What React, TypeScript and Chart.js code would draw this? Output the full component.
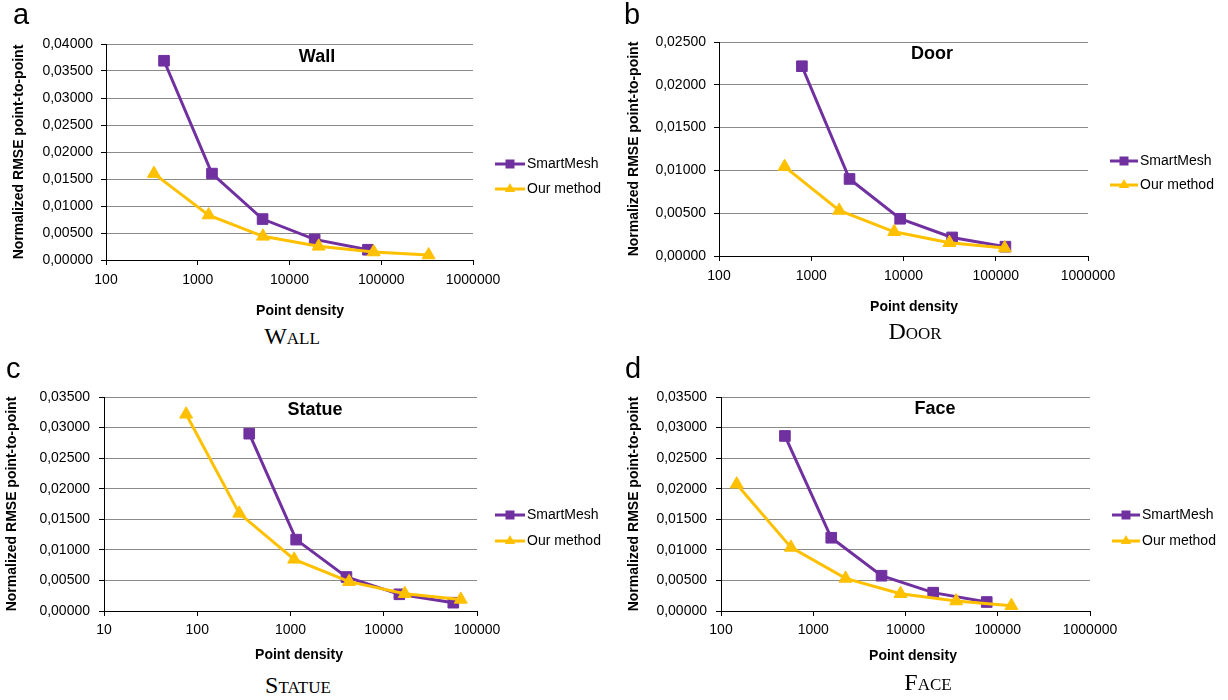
import React, { useEffect, useRef } from 'react';
import { Chart, registerables } from 'chart.js';

Chart.register(...registerables);

const FONT = '"Liberation Sans", Arial, sans-serif';
const SERIF = '"Liberation Serif", "DejaVu Serif", serif';
const SERIES_NAMES = ['SmartMesh', 'Our method'];
const COLORS = ['#7030A0', '#FFC000'];
const X_TITLE = 'Point density';
const Y_TITLE = 'Normalized RMSE point-to-point';

// Panel a: Wall
const WALL_SM_X = [429, 1429, 5090, 18800, 71600];
const WALL_SM_Y = [0.0369, 0.016, 0.00758, 0.00382, 0.0019];
const WALL_OUR_X = [333, 1314, 5140, 20800, 82600, 328000];
const WALL_OUR_Y = [0.016, 0.00832, 0.00438, 0.00253, 0.00148, 0.00092];
const WALL_X_TICKS = [100, 1000, 10000, 100000, 1000000];
const WALL_Y_TICKS = [0, 0.005, 0.01, 0.015, 0.02, 0.025, 0.03, 0.035, 0.04];

// Panel b: Door
const DOOR_SM_X = [792, 2600, 9200, 33650, 127300];
const DOOR_SM_Y = [0.02217, 0.009, 0.00435, 0.00217, 0.00109];
const DOOR_OUR_X = [514, 2010, 7925, 31480, 125000];
const DOOR_OUR_Y = [0.01044, 0.00532, 0.00283, 0.00155, 0.00093];
const DOOR_X_TICKS = [100, 1000, 10000, 100000, 1000000];
const DOOR_Y_TICKS = [0, 0.005, 0.01, 0.015, 0.02, 0.025];

// Panel c: Statue
const STATUE_SM_X = [361, 1150, 3980, 14700, 55700];
const STATUE_SM_Y = [0.029, 0.01167, 0.00556, 0.00273, 0.00136];
const STATUE_OUR_X = [76, 282, 1095, 4250, 16800, 67000];
const STATUE_OUR_Y = [0.03217, 0.01597, 0.00845, 0.0048, 0.00283, 0.0019];
const STATUE_X_TICKS = [10, 100, 1000, 10000, 100000];
const STATUE_Y_TICKS = [0, 0.005, 0.01, 0.015, 0.02, 0.025, 0.03, 0.035];

// Panel d: Face
const FACE_SM_X = [493, 1567, 5500, 19950, 76000];
const FACE_SM_Y = [0.02863, 0.01198, 0.00577, 0.003, 0.00147];
const FACE_OUR_X = [148, 573, 2240, 8830, 35400, 140600];
const FACE_OUR_Y = [0.02074, 0.0104, 0.00533, 0.00283, 0.00163, 0.00087];
const FACE_X_TICKS = [100, 1000, 10000, 100000, 1000000];
const FACE_Y_TICKS = [0, 0.005, 0.01, 0.015, 0.02, 0.025, 0.03, 0.035];

type PanelCfg = {
  letter: string;
  title: string;
  caption: string;
  smX: number[]; smY: number[]; ourX: number[]; ourY: number[];
  xTicks: number[]; yTicks: number[];
  box: { left: number; top: number; w: number; h: number };
  area: { l: number; r: number; t: number; b: number };
  yTickPad: number; yTitlePad: number; xTickPad: number;
  titlePos: [number, number];
  xTitlePos: [number, number];
  legend: { x0: number; x1: number; tx: number; y: [number, number] };
  capPos: [number, number];
  letterPos: [number, number];
};

const PANELS: PanelCfg[] = [
  {
    letter: 'a', title: 'Wall', caption: 'Wall',
    smX: WALL_SM_X, smY: WALL_SM_Y, ourX: WALL_OUR_X, ourY: WALL_OUR_Y,
    xTicks: WALL_X_TICKS, yTicks: WALL_Y_TICKS,
    box: { left: 0, top: 0, w: 614, h: 320 },
    area: { l: 106, r: 473, t: 44, b: 260 },
    yTickPad: 8, yTitlePad: 11, xTickPad: 7,
    titlePos: [317, 57], xTitlePos: [300, 311],
    legend: { x0: 495, x1: 525, tx: 527, y: [164, 189] },
    capPos: [292, 324], letterPos: [13, 0],
  },
  {
    letter: 'b', title: 'Door', caption: 'Door',
    smX: DOOR_SM_X, smY: DOOR_SM_Y, ourX: DOOR_OUR_X, ourY: DOOR_OUR_Y,
    xTicks: DOOR_X_TICKS, yTicks: DOOR_Y_TICKS,
    box: { left: 614, top: 0, w: 614, h: 320 },
    area: { l: 719, r: 1088, t: 42, b: 256 },
    yTickPad: 8, yTitlePad: 12, xTickPad: 7,
    titlePos: [932, 54], xTitlePos: [914, 307],
    legend: { x0: 1110, x1: 1138, tx: 1140, y: [161, 185] },
    capPos: [915, 319], letterPos: [624, 0],
  },
  {
    letter: 'c', title: 'Statue', caption: 'Statue',
    smX: STATUE_SM_X, smY: STATUE_SM_Y, ourX: STATUE_OUR_X, ourY: STATUE_OUR_Y,
    xTicks: STATUE_X_TICKS, yTicks: STATUE_Y_TICKS,
    box: { left: 0, top: 350, w: 614, h: 320 },
    area: { l: 104, r: 477, t: 397, b: 611 },
    yTickPad: 9, yTitlePad: 4, xTickPad: 6,
    titlePos: [315, 410], xTitlePos: [299, 655],
    legend: { x0: 495, x1: 525, tx: 527, y: [515, 541] },
    capPos: [298, 673], letterPos: [6, 354],
  },
  {
    letter: 'd', title: 'Face', caption: 'Face',
    smX: FACE_SM_X, smY: FACE_SM_Y, ourX: FACE_OUR_X, ourY: FACE_OUR_Y,
    xTicks: FACE_X_TICKS, yTicks: FACE_Y_TICKS,
    box: { left: 614, top: 350, w: 614, h: 320 },
    area: { l: 721, r: 1090, t: 397, b: 611 },
    yTickPad: 9, yTitlePad: 12, xTickPad: 6,
    titlePos: [935, 409], xTitlePos: [913, 656],
    legend: { x0: 1112, x1: 1140, tx: 1142, y: [515, 541] },
    capPos: [928, 670], letterPos: [625, 354],
  },
];

function drawMarker(ctx: CanvasRenderingContext2D, style: string, x: number, y: number, color: string) {
  ctx.fillStyle = color;
  ctx.beginPath();
  if (style === 'rect') {
    ctx.rect(x - 4.5, y - 4.5, 9, 9);
  } else {
    const r = 6;
    ctx.moveTo(x, y - r);
    ctx.lineTo(x + r * 0.866, y + r / 2);
    ctx.lineTo(x - r * 0.866, y + r / 2);
    ctx.closePath();
  }
  ctx.fill();
}

const overlayPlugin = {
  id: 'overlay',
  afterDraw(chart: any) {
    const p: PanelCfg = chart.$panel;
    if (!p) return;
    const ctx: CanvasRenderingContext2D = chart.ctx;
    const ox = p.box.left;
    const oy = p.box.top;
    ctx.save();
    ctx.fillStyle = '#000';
    ctx.textAlign = 'center';
    ctx.textBaseline = 'middle';
    ctx.font = `bold 18px ${FONT}`;
    ctx.fillText(p.title, p.titlePos[0] - ox, p.titlePos[1] - oy);
    ctx.font = `bold 14px ${FONT}`;
    ctx.fillText(X_TITLE, p.xTitlePos[0] - ox, p.xTitlePos[1] - oy);
    chart.data.datasets.forEach((ds: any, i: number) => {
      const y = p.legend.y[i] - oy;
      ctx.strokeStyle = ds.borderColor;
      ctx.lineWidth = 3;
      ctx.beginPath();
      ctx.moveTo(p.legend.x0 - ox, y);
      ctx.lineTo(p.legend.x1 - ox, y);
      ctx.stroke();
      drawMarker(ctx, ds.pointStyle, (p.legend.x0 + p.legend.x1) / 2 - ox, y, ds.borderColor);
      ctx.fillStyle = '#000';
      ctx.textAlign = 'left';
      ctx.font = `14px ${FONT}`;
      ctx.fillText(ds.label, p.legend.tx - ox, y);
    });
    ctx.restore();
  },
};

function Panel({ p }: { p: PanelCfg }) {
  const ref = useRef<HTMLCanvasElement>(null);
  useEffect(() => {
    if (!ref.current) return;
    const smData = p.smX.map((x, i) => ({ x, y: p.smY[i] }));
    const ourData = p.ourX.map((x, i) => ({ x, y: p.ourY[i] }));
    const chart: any = new Chart(ref.current, {
      type: 'line',
      data: {
        datasets: [
          {
            label: SERIES_NAMES[0], data: smData,
            borderColor: COLORS[0], backgroundColor: COLORS[0],
            pointBackgroundColor: COLORS[0], pointBorderColor: COLORS[0],
            pointStyle: 'rect', pointRadius: 7.5, pointBorderWidth: 1,
            borderWidth: 3, tension: 0, order: 1, clip: false,
          },
          {
            label: SERIES_NAMES[1], data: ourData,
            borderColor: COLORS[1], backgroundColor: COLORS[1],
            pointBackgroundColor: COLORS[1], pointBorderColor: COLORS[1],
            pointStyle: 'triangle', pointRadius: 7.5, pointBorderWidth: 1,
            borderWidth: 3, tension: 0, order: 0, clip: false,
          },
        ],
      },
      options: {
        responsive: false,
        maintainAspectRatio: false,
        animation: false,
        devicePixelRatio: 1,
        events: [],
        layout: {
          padding: {
            left: 0,
            top: p.area.t - p.box.top,
            right: p.box.left + p.box.w - p.area.r,
            bottom: 0,
          },
        },
        scales: {
          x: {
            type: 'logarithmic',
            min: p.xTicks[0],
            max: p.xTicks[p.xTicks.length - 1],
            afterBuildTicks: (s: any) => { s.ticks = p.xTicks.map((v) => ({ value: v })); },
            afterFit: (s: any) => { s.height = p.box.top + p.box.h - p.area.b; },
            grid: { drawOnChartArea: false, drawTicks: true, tickLength: 5, tickColor: '#000', tickWidth: 1 },
            border: { display: true, color: '#000', width: 1 },
            ticks: {
              padding: p.xTickPad, autoSkip: false, maxRotation: 0,
              color: '#000', font: { family: FONT, size: 14 },
              callback: (v: any) => String(Math.round(Number(v))),
            },
            title: { display: false },
          },
          y: {
            type: 'linear',
            min: p.yTicks[0],
            max: p.yTicks[p.yTicks.length - 1],
            afterBuildTicks: (s: any) => { s.ticks = p.yTicks.map((v) => ({ value: v })); },
            afterFit: (s: any) => { s.width = p.area.l - p.box.left; },
            grid: { color: '#8a8a8a', lineWidth: 1, drawTicks: true, tickLength: 5, tickColor: '#000', tickWidth: 1 },
            border: { display: true, color: '#000', width: 1 },
            ticks: {
              padding: p.yTickPad, color: '#000', font: { family: FONT, size: 14 },
              callback: (v: any) => Number(v).toFixed(5).replace('.', ','),
            },
            title: {
              display: true, text: Y_TITLE, color: '#000',
              font: { family: FONT, size: 14, weight: 'bold' },
              padding: { top: p.yTitlePad, bottom: 0 },
            },
          },
        },
        plugins: {
          legend: { display: false },
          tooltip: { enabled: false },
          title: { display: false },
        },
      },
      plugins: [
        {
          id: 'panelRef',
          beforeInit: (c: any) => { c.$panel = p; },
        },
        overlayPlugin,
      ],
    } as any);
    return () => chart.destroy();
  }, [p]);

  return (
    <canvas
      ref={ref}
      width={p.box.w}
      height={p.box.h}
      style={{ position: 'absolute', left: p.box.left, top: p.box.top, width: p.box.w, height: p.box.h }}
    />
  );
}

export default function App() {
  return (
    <div style={{ position: 'absolute', left: 0, top: 0, width: 1228, height: 700, background: '#fff', overflow: 'hidden' }}>
      {PANELS.map((p) => (
        <React.Fragment key={p.letter}>
          <Panel p={p} />
          <div
            style={{
              position: 'absolute', left: p.letterPos[0], top: p.letterPos[1],
              fontFamily: FONT, fontSize: 29, lineHeight: '29px', color: '#000',
            }}
          >
            {p.letter}
          </div>
          <div
            style={{
              position: 'absolute', left: p.capPos[0] - 100, top: p.capPos[1], width: 200,
              textAlign: 'center', fontFamily: SERIF, fontSize: 24, lineHeight: '24px',
              fontVariant: 'small-caps', color: '#000',
            }}
          >
            {p.caption}
          </div>
        </React.Fragment>
      ))}
    </div>
  );
}
